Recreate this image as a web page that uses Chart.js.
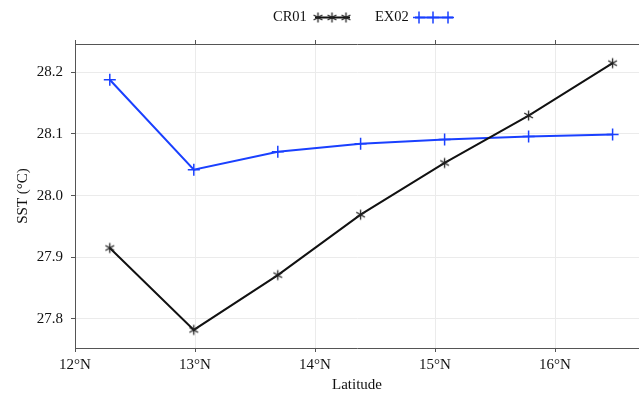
<!DOCTYPE html>
<html>
<head>
<meta charset="utf-8">
<script src="https://cdn.jsdelivr.net/npm/chart.js@4/dist/chart.umd.min.js"></script>
<style>
  html, body { margin: 0; padding: 0; background: #fff; }
  #wrap { width: 639px; height: 394px; position: relative; }
</style>
</head>
<body>
<div id="wrap"><canvas id="c" width="639" height="394"></canvas></div>
<script>
// ---- data ----
const latitudes = [12.29, 12.99, 13.69, 14.38, 15.08, 15.78, 16.48];
const cr01 = [27.915, 27.782, 27.871, 27.969, 28.053, 28.130, 28.215];
const ex02 = [28.188, 28.042, 28.071, 28.084, 28.091, 28.096, 28.099];
const seriesNames = ['CR01', 'EX02'];
const xTickValues = [12, 13, 14, 15, 16];
const yTickValues = [27.8, 27.9, 28.0, 28.1, 28.2];

const FONT = "'Liberation Serif', 'Times New Roman', serif";
const BLUE = '#1a40ff';

// asterisk marker image
function makeAsterisk(color) {
  const s = 13, c = document.createElement('canvas');
  c.width = s; c.height = s;
  const g = c.getContext('2d');
  g.strokeStyle = color; g.lineWidth = 1.3; g.lineCap = 'butt';
  const r = 5, cx = s / 2, cy = s / 2;
  for (let k = 0; k < 3; k++) {
    const a = Math.PI / 2 + k * Math.PI / 3;
    g.beginPath();
    g.moveTo(cx + r * Math.cos(a), cy + r * Math.sin(a));
    g.lineTo(cx - r * Math.cos(a), cy - r * Math.sin(a));
    g.stroke();
  }
  return c;
}
const asterisk = makeAsterisk('#222222');

const legendPlugin = {
  id: 'customLegend',
  afterDraw(chart) {
    const ctx = chart.ctx;
    ctx.save();
    ctx.font = '14.5px ' + FONT;
    ctx.textBaseline = 'middle';
    ctx.fillStyle = '#111';
    const y = 17.5;
    ctx.textAlign = 'left';
    ctx.fillText(seriesNames[0], 273, y);
    ctx.strokeStyle = '#111'; ctx.lineWidth = 2;
    ctx.beginPath(); ctx.moveTo(315, y); ctx.lineTo(350, y); ctx.stroke();
    [318, 332, 346].forEach(px => ctx.drawImage(asterisk, px - asterisk.width / 2, y - asterisk.height / 2));
    ctx.fillText(seriesNames[1], 375, y);
    ctx.strokeStyle = BLUE; ctx.lineWidth = 2;
    ctx.beginPath(); ctx.moveTo(415, y); ctx.lineTo(453, y); ctx.stroke();
    ctx.lineWidth = 1.5;
    [419, 433, 448].forEach(px => {
      ctx.beginPath();
      ctx.moveTo(px - 6, y); ctx.lineTo(px + 6, y);
      ctx.moveTo(px, y - 6); ctx.lineTo(px, y + 6);
      ctx.stroke();
    });
    ctx.restore();
  }
};

function keepTicks(values) {
  return function (scale) {
    scale.ticks = values.map(v => ({ value: v }));
  };
}
function noPad(s) { s.paddingLeft = 0; s.paddingRight = 0; }

new Chart(document.getElementById('c'), {
  type: 'line',
  data: {
    datasets: [
      {
        label: seriesNames[0],
        data: latitudes.map((x, i) => ({ x, y: cr01[i] })),
        borderColor: '#111111',
        borderWidth: 2,
        pointStyle: asterisk,
        pointRadius: 6,
        tension: 0
      },
      {
        label: seriesNames[1],
        data: latitudes.map((x, i) => ({ x, y: ex02[i] })),
        borderColor: BLUE,
        borderWidth: 2,
        pointStyle: 'cross',
        pointRadius: 6,
        pointBorderWidth: 1.5,
        pointBorderColor: BLUE,
        tension: 0
      }
    ]
  },
  options: {
    responsive: false,
    animation: false,
    events: [],
    layout: { autoPadding: false, padding: { top: 44, right: 0, left: 0, bottom: 0 } },
    plugins: { legend: { display: false }, tooltip: { enabled: false } },
    scales: {
      x: {
        type: 'linear',
        position: 'bottom',
        min: 12, max: 16.7,
        afterBuildTicks: keepTicks(xTickValues),
        afterFit(s) { s.height = 46; noPad(s); },
        border: { display: true, color: '#555', width: 1 },
        grid: { color: '#ebebeb', lineWidth: 1, tickLength: 4, tickColor: '#555', drawTicks: true },
        ticks: {
          color: '#111', font: { family: FONT, size: 15 }, padding: 4, maxRotation: 0,
          callback: v => v + '°N'
        },
        title: { display: true, text: 'Latitude', color: '#111', font: { family: FONT, size: 15 }, padding: { top: 0, bottom: 0 } }
      },
      xTop: {
        type: 'linear',
        position: 'top',
        min: 12, max: 16.7,
        afterBuildTicks: keepTicks(xTickValues),
        afterFit(s) { s.height = 0; noPad(s); },
        border: { display: true, color: '#555', width: 1 },
        grid: { drawOnChartArea: false, tickLength: 4, tickColor: '#555' },
        ticks: { display: false }
      },
      y: {
        type: 'linear',
        min: 27.7526, max: 28.2461,
        afterBuildTicks: keepTicks(yTickValues),
        afterFit(s) { s.width = 75; },
        border: { display: true, color: '#555', width: 1 },
        grid: { color: '#ebebeb', lineWidth: 1, tickLength: 4, tickColor: '#555' },
        ticks: {
          color: '#111', font: { family: FONT, size: 15 }, padding: 8,
          callback: v => Number(v).toFixed(1)
        },
        title: { display: true, text: 'SST (°C)', color: '#111', font: { family: FONT, size: 15 }, padding: { top: 14, bottom: 0 } }
      }
    }
  },
  plugins: [legendPlugin]
});
</script>
</body>
</html>
